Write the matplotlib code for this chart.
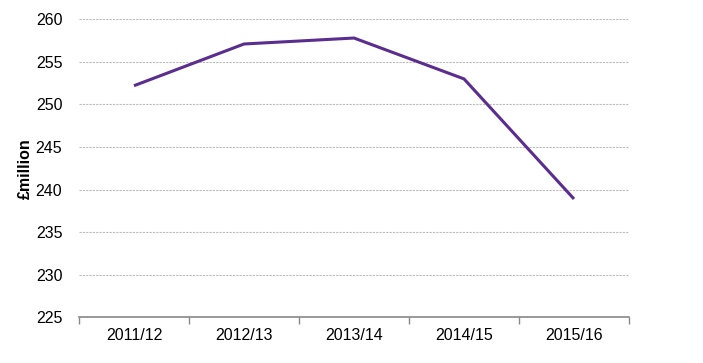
import matplotlib.pyplot as plt

years = ['2011/12', '2012/13', '2013/14', '2014/15', '2015/16']
spend = [252.2, 257.1, 257.8, 253.0, 238.9]

plt.rcParams['font.family'] = ['Liberation Sans', 'DejaVu Sans']

fig = plt.figure(figsize=(7.03, 3.63), dpi=100)
ax = fig.add_axes([79 / 703, 1 - 317.3 / 363, 550 / 703, 298 / 363])

x = range(len(years))
ax.plot(x, spend, color='#5B2D8F', linewidth=2.2, solid_capstyle='butt')

ax.set_xlim(-0.5, len(years) - 0.5)
ax.set_ylim(225, 260)
ax.set_yticks(range(225, 261, 5))
ax.set_xticks(list(x))
ax.set_xticklabels(years)
# tick marks sit between categories
ax.set_xticks([i - 0.5 for i in range(len(years) + 1)], minor=True)
ax.tick_params(axis='x', which='major', length=0, pad=8, labelsize=11.5)
ax.tick_params(axis='x', which='minor', length=5, color='#888888', width=1)
ax.tick_params(axis='y', length=0, pad=12, labelsize=11.5)

ax.grid(axis='y', color='#bbbbbb', linestyle=(0, (2, 1)), linewidth=0.8)
for s in ['top', 'right', 'left']:
    ax.spines[s].set_visible(False)
ax.spines['bottom'].set_color('#888888')
ax.spines['bottom'].set_linewidth(1.2)

ax.set_ylabel('£million', fontweight='bold', fontsize=11.5)
ax.yaxis.set_label_coords(-0.084, 0.5)

fig.savefig('out.png', dpi=100)
